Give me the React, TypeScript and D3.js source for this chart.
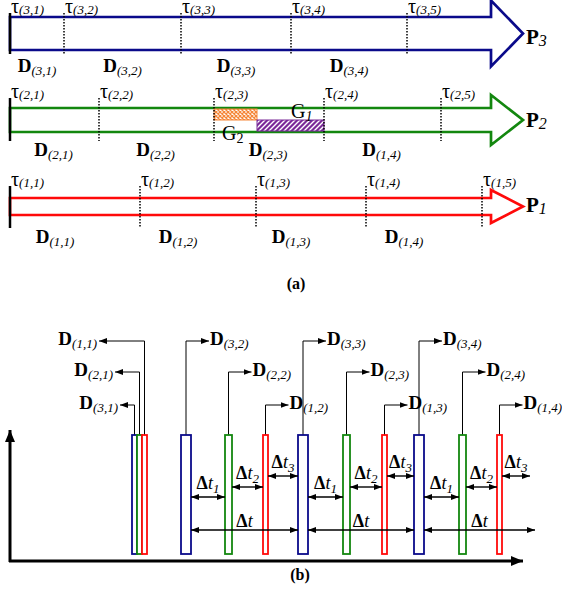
import React from "react";
import * as d3 from "d3";

const W = 562;
const H = 592;
const FONT = "'Liberation Serif', 'Times New Roman', serif";

// ---- (a) task boundaries (tau) per processor, same time units as the axis
const procNames = ["3", "2", "1"];
const procColors = ["#0a0a8a", "#13870f", "#ff0a0a"];
const tauP3 = [0, 54, 171, 281, 397];
const tauP2 = [0, 89, 204, 314, 431];
const tauP1 = [0, 130, 246, 356, 472];
const tauRows = [tauP3, tauP2, tauP1];
const dLabelsA = [
  ["3,1", "3,2", "3,3", "3,4"],
  ["2,1", "2,2", "2,3", "1,4"],
  ["1,1", "1,2", "1,3", "1,4"],
];
const headStart = 481;
const horizon = 513;
const gapG2 = [204, 247];
const gapG1 = [247, 314];

// ---- (b) execution bars: start time + duration per processor
const startsP3 = [122, 171, 288, 404];
const dursP3 = [5, 10, 10, 10];
const startsP2 = [127, 215, 333, 449];
const dursP2 = [5, 7, 7, 7];
const startsP1 = [132, 253, 372, 487];
const dursP1 = [5, 5, 5, 5];
const dLabelsB = [
  ["3,1", "3,2", "3,3", "3,4"],
  ["2,1", "2,2", "2,3", "2,4"],
  ["1,1", "1,2", "1,3", "1,4"],
];
const deltaT3End = 520;
const deltaTEnd = 525;
const axisEndB = 513;

export default function App() {
  const x = d3.scaleLinear().domain([0, horizon]).range([10, 523]);

  // row geometry for (a)
  const rowsA = [
    { cy: 33.5, body: 16.5, head: 33, top: 13, bot: 54, dBase: 72, dOff: 0, pBase: 44 },
    { cy: 120, body: 12, head: 25, top: 98, bot: 141, dBase: 156, dOff: -1, pBase: 127 },
    { cy: 206.5, body: 8.5, head: 16.5, top: 186, bot: 228, dBase: 243, dOff: -20, pBase: 212 },
  ];

  const arrowPath = (r: any) => {
    const p = d3.path();
    p.moveTo(x(0), r.cy - r.body);
    p.lineTo(x(headStart), r.cy - r.body);
    p.lineTo(x(headStart), r.cy - r.head);
    p.lineTo(x(horizon), r.cy);
    p.lineTo(x(headStart), r.cy + r.head);
    p.lineTo(x(headStart), r.cy + r.body);
    p.lineTo(x(0), r.cy + r.body);
    p.closePath();
    return p.toString();
  };

  // (b) geometry
  const starts = [startsP3, startsP2, startsP1];
  const durs = [dursP3, dursP2, dursP1];
  const barTop = 435;
  const barBot = 554;
  const levels = [341, 372, 405];
  const leftTips = [99, 115, 120];
  const yDt1 = 497, yDt2 = 487, yDt3 = 476, yDt = 530;

  const bars: any[] = [];
  starts.forEach((row, i) => {
    row.forEach((s, k) => {
      const d = durs[i][k];
      const cx = x(s + d / 2);
      const level = k === 0 ? 2 - i : i;
      const ly = levels[level];
      const tip = k === 0 ? leftTips[level] : cx + 23;
      bars.push({ i, k, x0: x(s), x1: x(s + d), cx, ly, tip, label: dLabelsB[i][k] });
    });
  });

  const deltas: any[] = [];
  for (let k = 1; k < 4; k++) {
    const bEnd = x(startsP3[k] + dursP3[k]);
    const gS = x(startsP2[k]);
    const gE = x(startsP2[k] + dursP2[k]);
    const rS = x(startsP1[k]);
    const rE = x(startsP1[k] + dursP1[k]);
    const nextB = k < 3 ? x(startsP3[k + 1]) : null;
    deltas.push({ x0: bEnd, x1: gS, y: yDt1, sub: "1" });
    deltas.push({ x0: gE, x1: rS, y: yDt2, sub: "2" });
    deltas.push({ x0: rE, x1: nextB ?? x(deltaT3End), y: yDt3, sub: "3" });
    deltas.push({ x0: bEnd, x1: nextB ?? x(deltaTEnd), y: yDt, sub: "" });
  }

  return (
    <svg
      width={W}
      height={H}
      style={{ position: "absolute", left: 0, top: 0, background: "#fff" }}
      fontFamily={FONT}
    >
      <defs>
        <marker id="ah" viewBox="0 0 8 6" refX="8" refY="3" markerWidth="8" markerHeight="6"
          markerUnits="userSpaceOnUse" orient="auto-start-reverse">
          <path d="M0,0 L8,3 L0,6 z" fill="#000" />
        </marker>
        <marker id="big" viewBox="0 0 12 10" refX="12" refY="5" markerWidth="12" markerHeight="10"
          markerUnits="userSpaceOnUse" orient="auto">
          <path d="M0,0 L12,5 L0,10 z" fill="#000" />
        </marker>
        <pattern id="cross" width="4" height="4" patternUnits="userSpaceOnUse">
          <rect width="4" height="4" fill="#fff" />
          <path d="M0,0 L4,4 M4,0 L0,4" stroke="#f5873a" strokeWidth="1.3" />
        </pattern>
        <pattern id="diag" width="5" height="5" patternUnits="userSpaceOnUse">
          <rect width="5" height="5" fill="#7b2a98" />
          <path d="M-1,6 L6,-1 M-1,1 L1,-1 M4,6 L6,4" stroke="#fff" strokeWidth="1.4" />
        </pattern>
      </defs>

      {/* ---------- (a) ---------- */}
      {rowsA.map((r, i) => (
        <g key={"row" + i}>
          <path d={arrowPath(r)} fill="#fff" stroke={procColors[i]} strokeWidth={2.7} strokeLinejoin="miter" />
          {i === 1 && (
            <g>
              <rect x={x(gapG2[0])} y={r.cy - r.body + 1} width={x(gapG2[1]) - x(gapG2[0])}
                height={r.body - 1} fill="url(#cross)" stroke="#f5873a" strokeWidth={1} />
              <rect x={x(gapG1[0])} y={r.cy} width={x(gapG1[1]) - x(gapG1[0])}
                height={r.body - 1} fill="url(#diag)" stroke="#7b2a98" strokeWidth={1} />
              <text x={x(gapG2[0]) + 8} y={140} fontSize={20}>
                G<tspan fontSize={14} dy={3}>2</tspan>
              </text>
              <text x={x(gapG1[0]) + 34} y={118} fontSize={20}>
                G<tspan fontSize={14} fontStyle="italic" dy={3}>1</tspan>
              </text>
            </g>
          )}
          <line x1={x(0)} x2={x(0)} y1={r.top} y2={r.bot} stroke="#000" strokeWidth={2.5} />
          {tauRows[i].slice(1).map((t, j) => (
            <line key={"d" + j} x1={x(t)} x2={x(t)} y1={r.top} y2={r.bot}
              stroke="#000" strokeWidth={1.5} strokeDasharray="1.5,1.5" />
          ))}
          {tauRows[i].map((t, j) => (
            <text key={"t" + j} x={x(t) + 1} y={r.top} fontSize={20}>
              τ<tspan fontSize={13} fontStyle="italic" dy={1}>({procNames[i]},{j + 1})</tspan>
            </text>
          ))}
          {dLabelsA[i].map((lab, j) => {
            const mid = (x(tauRows[i][j]) + x(tauRows[i][j + 1])) / 2 + r.dOff;
            return (
              <text key={"D" + j} x={mid} y={r.dBase} textAnchor="middle">
                <tspan fontSize={19} fontWeight="bold">D</tspan>
                <tspan fontSize={13} fontStyle="italic" dy={3}>({lab})</tspan>
              </text>
            );
          })}
          <text x={526} y={r.pBase}>
            <tspan fontSize={21} fontWeight="bold">P</tspan>
            <tspan fontSize={16} fontStyle="italic" dy={2}>{procNames[i]}</tspan>
          </text>
        </g>
      ))}
      <text x={296} y={289} textAnchor="middle" fontSize={16} fontWeight="bold">(a)</text>

      {/* ---------- (b) ---------- */}
      <line x1={x(0)} x2={x(0)} y1={562} y2={430} stroke="#000" strokeWidth={3} markerEnd="url(#big)" />
      <line x1={x(0) - 1} x2={x(axisEndB)} y1={561} y2={561} stroke="#000" strokeWidth={3} markerEnd="url(#big)" />

      {bars.map((b, n) => (
        <path key={"c" + n} d={`M${b.cx},${barTop}V${b.ly}H${b.tip}`} fill="none"
          stroke="#000" strokeWidth={1} markerEnd="url(#ah)" />
      ))}
      {bars.map((b, n) => (
        <rect key={"b" + n} x={b.x0} y={barTop} width={b.x1 - b.x0} height={barBot - barTop}
          fill="#fff" stroke={procColors[b.i]} strokeWidth={1.8} />
      ))}
      {bars.map((b, n) => (
        <text key={"bl" + n} x={b.k === 0 ? b.tip - 2 : b.tip + 1} y={b.ly + 4}
          textAnchor={b.k === 0 ? "end" : "start"}>
          <tspan fontSize={19} fontWeight="bold">D</tspan>
          <tspan fontSize={13} fontStyle="italic" dy={3}>({b.label})</tspan>
        </text>
      ))}

      {deltas.map((d, n) => (
        <g key={"dl" + n}>
          <line x1={d.x0} x2={d.x1} y1={d.y} y2={d.y} stroke="#000" strokeWidth={1.4}
            markerStart="url(#ah)" markerEnd="url(#ah)" />
          <text x={(d.x0 + d.x1) / 2} y={d.sub ? d.y - 8 : d.y - 3} textAnchor="middle">
            <tspan fontSize={18} fontWeight="bold">Δ</tspan>
            <tspan fontSize={18} fontStyle="italic">t</tspan>
            {d.sub && <tspan fontSize={13} fontStyle="italic" dy={4}>{d.sub}</tspan>}
          </text>
        </g>
      ))}
      <text x={300} y={580} textAnchor="middle" fontSize={16} fontWeight="bold">(b)</text>
    </svg>
  );
}
